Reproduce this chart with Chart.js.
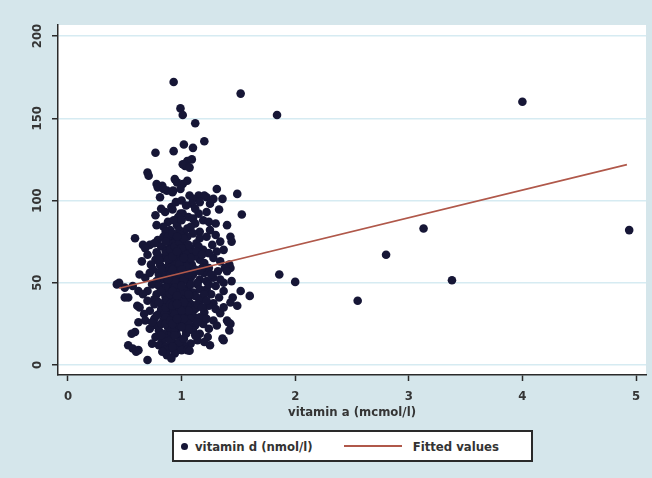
<!DOCTYPE html>
<html>
<head>
<meta charset="utf-8">
<script src="https://cdn.jsdelivr.net/npm/chart.js@4.4.1/dist/chart.umd.min.js"></script>
<style>
  body { margin: 0; background: #d5e6eb; }
  #wrap { position: relative; width: 652px; height: 478px; }
  .legend {
    position: absolute; left: 172px; top: 430px; width: 357px; height: 28px;
    background: #fff; border: 2px solid #2a2a2a;
    font: bold 13px "DejaVu Sans Condensed", "DejaVu Sans", sans-serif; color: #333;
    display: flex; align-items: center;
  }
  .dot { width: 7px; height: 7px; border-radius: 50%; background: #161636; margin: 0 7px 0 7px; }
  .line { width: 58px; height: 0; border-top: 2px solid #b0584a; margin: 0 11px 0 31px; }
</style>
</head>
<body>
<div id="wrap">
  <canvas id="c" width="652" height="478"></canvas>
  <div class="legend">
    <span class="dot"></span><span>vitamin d (nmol/l)</span>
    <span class="line"></span><span>Fitted values</span>
  </div>
</div>
<script>
const xTicks = [0, 1, 2, 3, 4, 5];
const yTicks = [0, 50, 100, 150, 200];

// vitamin a (x), vitamin d (y)
const vitaminPoints = [
  [0.93,172], [1.52,165], [4.0,160],
  [0.99,156], [1.01,152], [1.12,147], [1.84,152],
  [1.20,136], [1.02,134], [1.10,132], [0.93,130], [0.77,129], [1.05,124], [1.09,125], [1.03,121], [1.01,122], [1.07,120],
  [0.70,117], [0.71,115], [0.94,113], [0.96,111], [0.78,110], [1.01,110], [0.83,109], [1.05,112],
  [0.79,108], [0.87,106], [0.925,106], [0.99,107], [0.84,107], [1.31,107], [0.81,102], [1.00,100], [1.07,103], [1.15,103],
  [1.22,102], [1.28,101], [1.36,101], [1.49,104], [0.92,105], [1.20,103], [1.10,101],
  [1.09,98], [1.16,99], [1.25,98], [1.33,94.5], [1.53,91.5], [1.01,92], [1.15,92], [0.77,91], [0.855,93], [0.92,94.5],
  [0.99,92], [0.91,96], [1.04,97], [0.95,99], [1.12,95], [1.22,93], [0.82,95], [1.06,90], [0.97,90],
  [0.88,87], [0.96,85], [1.19,88], [1.40,85], [1.12,86], [1.05,83], [1.25,82], [1.24,87], [0.90,82], [0.84,84],
  [1.00,88], [1.08,84], [1.16,81], [0.93,88], [1.02,80], [0.78,85], [1.30,86], [0.86,81], [1.10,89], [0.98,82],
  [0.59,77], [0.66,73], [0.72,73], [0.79,76], [0.84,78], [0.87,70], [1.43,78], [1.44,75], [1.34,75], [1.16,77],
  [1.10,80], [1.27,73], [1.37,70], [1.19,70], [1.01,74], [0.93,77], [0.97,72], [1.05,78], [0.90,74], [1.08,71],
  [0.82,72], [0.68,71], [1.22,78], [1.13,74], [0.99,79], [0.95,75], [1.03,71], [0.76,74], [1.30,79], [0.88,78], [1.15,72],
  [0.70,67], [0.78,68.5], [0.77,64], [0.83,65], [1.28,65], [1.16,64], [1.42,61], [0.87,66], [0.91,68], [0.95,64],
  [0.99,67], [1.03,62], [1.07,69], [1.11,66], [1.20,62], [1.24,68], [0.73,61], [0.81,61], [0.89,62], [0.93,60],
  [0.97,63], [1.01,69], [1.05,65], [1.09,61], [1.13,69], [1.34,63], [0.86,69], [0.65,63], [1.00,61], [0.94,66],
  [1.18,67], [1.31,69], [1.06,60], [0.79,67],
  [1.43,59], [1.38,59], [1.07,59], [0.68,53], [0.72,56], [1.40,57], [1.44,51], [1.37,50], [0.75,58], [0.80,55],
  [0.84,52], [0.88,57], [0.92,54], [0.96,58], [1.00,51], [1.04,56], [1.08,53], [1.12,58], [1.16,52], [1.20,56],
  [1.24,59], [1.28,53], [1.32,57], [0.78,51], [0.86,59], [0.90,50], [0.94,56], [0.98,53], [1.02,59], [1.06,51],
  [1.10,55], [1.14,50], [1.18,59], [1.22,51], [0.82,58], [0.63,55], [0.97,50], [1.26,55], [1.34,52], [0.99,57],
  [1.86,55], [2.0,50.5], [3.38,51.5], [0.45,50], [1.16,57], [1.03,54],
  [0.43,49], [0.50,47], [0.57,48], [0.62,45], [0.70,45], [1.37,45], [1.52,45], [1.60,42], [1.45,41],
  [0.50,41], [0.53,41], [0.74,49], [0.78,43], [0.82,47], [0.86,41], [0.90,46], [0.94,43], [0.98,48], [1.02,42],
  [1.06,47], [1.10,44], [1.14,49], [1.18,41], [1.22,46], [1.26,43], [1.30,48], [0.76,40], [0.80,48], [0.84,44],
  [0.88,49], [0.92,41], [0.96,45], [1.00,40], [1.04,45], [1.08,49], [1.12,42], [1.16,46], [1.20,43], [1.33,41],
  [0.66,43], [0.95,48], [1.01,47], [0.87,45], [1.24,49], [1.07,42],
  [0.61,36], [0.63,35], [0.70,39], [1.43,38], [1.49,36], [1.28,37.5], [1.34,31.5], [2.55,39], [0.72,33], [0.76,37],
  [0.80,31], [0.84,36], [0.88,33], [0.92,38], [0.96,32], [1.00,36], [1.04,31], [1.08,37], [1.12,34], [1.16,39],
  [1.20,32], [1.24,36], [0.78,39], [0.82,34], [0.86,39], [0.90,30], [0.94,35], [0.98,39], [1.02,34], [1.06,39],
  [1.10,30], [1.14,37], [1.18,35], [1.22,39], [0.67,31], [1.30,34], [0.93,33], [1.05,36], [0.99,31], [0.85,31], [1.37,35],
  [0.62,26], [0.68,27], [1.40,27], [1.43,25], [1.07,23], [1.19,25], [1.28,27], [1.31,24], [0.78,24], [0.72,22],
  [0.76,28], [0.80,21], [0.84,27], [0.88,23], [0.92,29], [0.96,22], [1.00,27], [1.04,21], [1.08,28], [1.12,24],
  [1.16,29], [1.24,22], [0.82,25], [0.86,29], [0.90,21], [0.94,25], [0.98,29], [1.02,24], [1.10,21], [1.14,26],
  [1.22,28], [1.41,26], [1.42,21], [0.59,20], [0.74,26], [0.97,26], [1.06,25],
  [0.56,19], [0.53,12], [0.57,10], [0.62,9], [0.83,15], [0.77,17], [1.36,16], [1.23,17], [1.25,12], [1.16,19],
  [1.14,15], [0.97,11], [1.37,15], [0.80,12], [0.88,18], [0.92,14], [0.86,11], [0.96,18], [1.00,15], [1.04,19],
  [1.08,13], [0.90,10], [1.12,18], [0.74,13], [1.20,14], [0.84,19], [1.02,12],
  [0.70,3], [0.855,9], [0.94,7], [0.87,6], [1.0,9], [1.05,9], [1.07,8.6], [0.60,8], [0.83,8], [0.91,4],
  [3.13,83], [4.94,82], [2.80,67],
  // core of the cloud
  [0.86,75], [0.90,70], [0.94,72], [0.98,75], [1.02,77], [1.06,73], [1.00,71], [0.92,80], [0.96,78], [1.04,67],
  [0.88,64], [0.92,66], [0.96,69], [1.00,64], [1.04,60], [1.08,65], [0.90,59], [0.98,61], [1.02,65],
  [0.86,54], [0.90,55], [0.94,51], [0.98,55], [1.02,52], [1.06,55], [1.00,58], [0.92,58], [0.88,52],
  [0.86,47], [0.90,43], [0.94,47], [0.98,44], [1.02,45], [1.06,43], [0.92,45], [1.00,48], [0.96,42],
  [0.86,35], [0.90,37], [0.94,31], [0.98,35], [1.02,38], [1.06,33], [0.92,36], [1.00,33], [0.96,37],
  [0.86,25], [0.90,27], [0.94,22], [0.98,24], [1.02,28], [1.06,22], [0.92,25], [1.00,23], [0.96,28],
  [0.86,16], [0.90,15], [0.94,18], [0.98,14], [1.02,16], [0.92,11], [0.80,64], [0.82,45], [0.80,38], [0.78,30], [0.82,18]
];

// fitted line end points
const fitX = [0.45, 4.92];
const fitY = [46.7, 121.8];

const font = { family: '"DejaVu Sans Condensed", "DejaVu Sans", sans-serif', size: 13, weight: 'bold' };
const textColor = '#353535';
const axisColor = '#2a2a2a';

const plotBg = {
  id: 'plotBg',
  beforeDraw(chart) {
    const { ctx, chartArea: a } = chart;
    ctx.save();
    ctx.fillStyle = '#ffffff';
    ctx.fillRect(a.left, a.top, a.right - a.left, a.bottom - a.top);
    ctx.restore();
  },
  afterDraw(chart) {
    // rotated y tick labels, like the original
    const { ctx } = chart;
    const y = chart.scales.y;
    ctx.save();
    ctx.fillStyle = textColor;
    ctx.font = `${font.weight} ${font.size}px ${font.family}`;
    ctx.textAlign = 'center';
    ctx.textBaseline = 'middle';
    y.ticks.forEach(t => {
      ctx.save();
      ctx.translate(38, y.getPixelForValue(t.value));
      ctx.rotate(-Math.PI / 2);
      ctx.fillText(String(t.value), 0, 0);
      ctx.restore();
    });
    ctx.restore();
  }
};

new Chart(document.getElementById('c'), {
  type: 'scatter',
  data: {
    datasets: [
      {
        type: 'line',
        label: 'Fitted values',
        data: fitX.map((x, i) => ({ x, y: fitY[i] })),
        borderColor: '#b0584a',
        borderWidth: 1.6,
        pointRadius: 0,
        fill: false,
        order: 0
      },
      {
        label: 'vitamin d (nmol/l)',
        data: vitaminPoints.map(([x, y]) => ({ x, y })),
        backgroundColor: '#161636',
        borderWidth: 0,
        pointRadius: 4.3,
        order: 1
      }
    ]
  },
  options: {
    responsive: false,
    animation: false,
    layout: { padding: { left: 0, right: 6, top: 25, bottom: 58 } },
    plugins: { legend: { display: false }, tooltip: { enabled: false } },
    scales: {
      x: {
        type: 'linear',
        min: -0.088,
        max: 5.088,
        afterBuildTicks: s => { s.ticks = xTicks.map(v => ({ value: v })); },
        afterFit: s => { s.height = 45; },
        ticks: { color: textColor, font, padding: 8, maxRotation: 0 },
        grid: { drawOnChartArea: false, drawTicks: true, tickLength: 6, tickColor: axisColor, tickWidth: 1.5 },
        border: { color: axisColor, width: 1.5 },
        title: { display: true, text: 'vitamin a (mcmol/l)', color: textColor, font, padding: { top: 0, bottom: 0 } }
      },
      y: {
        type: 'linear',
        min: -6.1,
        max: 206.7,
        afterBuildTicks: s => { s.ticks = yTicks.map(v => ({ value: v })); },
        afterFit: s => { s.width = 58; },
        ticks: { display: false },
        grid: { color: '#d6ebf2', lineWidth: 1.5, drawTicks: true, tickLength: 6, tickColor: axisColor, tickWidth: 1.5 },
        border: { color: axisColor, width: 1.5 }
      }
    }
  },
  plugins: [plotBg]
});
</script>
</body>
</html>
